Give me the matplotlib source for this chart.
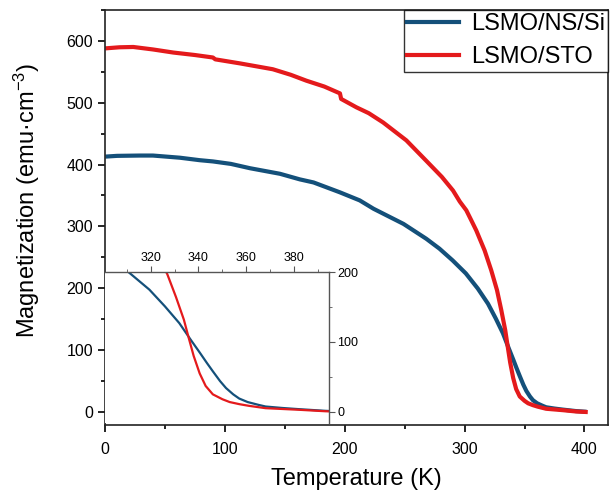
import matplotlib
matplotlib.use("Agg")
import matplotlib.pyplot as plt
from matplotlib.ticker import MultipleLocator

plt.rcParams['font.family'] = ['Liberation Sans', 'DejaVu Sans']
plt.rcParams['mathtext.fontset'] = 'custom'
plt.rcParams['mathtext.rm'] = 'Liberation Sans'
plt.rcParams['mathtext.default'] = 'regular'

# LSMO/NS/Si: temperature (K), magnetization (emu/cm3)
t_si = [2, 10, 29, 40, 62.5, 79, 90, 105, 121, 146, 162.5, 174, 196, 212.5,
        224, 249, 268, 279, 290, 301, 311, 319.5, 326, 332, 337, 340.5, 343.5,
        346, 349, 351.5, 354.5, 357, 360.5, 365, 368, 375, 382, 393, 400]
m_si = [413, 414, 414.5, 414.5, 411, 407, 405, 401, 394, 385, 376, 371, 355, 342,
        328.5, 304, 280, 264, 245, 224, 199.5, 175, 151, 127, 102, 85, 70,
        58, 44, 34, 25, 19, 14, 10, 7.6, 5.5, 3.8, 1.4, 0.5]

# LSMO/STO
t_sto = [2, 12, 23.6, 40, 57, 75, 90, 92, 112.5, 140, 155, 168, 183, 196, 197,
         209.7, 220, 232, 251.4, 268, 281, 290.3, 296, 301.4, 305, 309.7, 316.7,
         322.2, 327, 330.6, 333.9, 336, 338, 340.5, 343, 346, 350, 353, 357,
         361, 368, 382, 393, 401]
m_sto = [588, 589.5, 590, 586, 581, 577, 573, 570, 563.5, 554, 545, 535.5, 526, 515, 506,
         492.5, 483, 468, 439, 406, 380, 358, 340, 326, 312, 293.5, 261,
         229, 197, 164.5, 132, 105, 80, 55, 37, 25, 18, 14, 11,
         8.6, 5.2, 2.9, 0.8, 0]

blue = '#14507a'
red = '#e41a1c'

fig = plt.figure(figsize=(6.14, 4.93), dpi=100)
ax = fig.add_axes([0.171, 0.138, 0.820, 0.842])

ax.plot(t_si, m_si, color=blue, lw=3.0, label='LSMO/NS/Si')
ax.plot(t_sto, m_sto, color=red, lw=3.0, label='LSMO/STO')

ax.set_xlim(0, 420)
ax.set_ylim(-21, 650)
ax.xaxis.set_major_locator(MultipleLocator(100))
ax.xaxis.set_minor_locator(MultipleLocator(50))
ax.yaxis.set_major_locator(MultipleLocator(100))
ax.yaxis.set_minor_locator(MultipleLocator(50))
ax.tick_params(which='both', direction='out', width=1.2, labelsize=11.5)
ax.tick_params(which='major', length=5)
ax.tick_params(which='minor', length=3)
ax.tick_params(axis='x', pad=7)
for s in ax.spines.values():
    s.set_linewidth(1.2)
    s.set_color('#222222')

ax.set_xlabel('Temperature (K)', fontsize=17, labelpad=8)
ax.set_ylabel('Magnetization (emu·cm$^{-3}$)', fontsize=17)
ax.yaxis.set_label_coords(-0.125, 0.542)

leg = ax.legend(loc='upper right', bbox_to_anchor=(1.0, 1.0), borderaxespad=0,
                fontsize=17, frameon=True, fancybox=False, handlelength=2.2,
                handletextpad=0.5, borderpad=0.15, labelspacing=0.45)
leg.get_frame().set_edgecolor('black')
leg.get_frame().set_linewidth(1.0)
for line in leg.get_lines():
    line.set_linewidth(3.0)

# inset zoom around the transition
ins = fig.add_axes([0.171, 0.142, 0.365, 0.306])
ins.plot(t_si, m_si, color=blue, lw=1.6)
ins.plot(t_sto, m_sto, color=red, lw=1.6)
ins.set_xlim(301, 394.5)
ins.set_ylim(-16, 200)
ins.xaxis.set_major_locator(MultipleLocator(20))
ins.xaxis.set_minor_locator(MultipleLocator(10))
ins.yaxis.set_major_locator(MultipleLocator(100))
ins.yaxis.set_minor_locator(MultipleLocator(50))
ins.xaxis.tick_top()
ins.yaxis.tick_right()
ins.tick_params(which='both', direction='out', color='#555555', labelsize=9, pad=2)
ins.tick_params(which='major', length=4)
ins.tick_params(which='minor', length=2)
ins.spines['left'].set_visible(False)
ins.spines['bottom'].set_visible(False)
for side in ('top', 'right'):
    ins.spines[side].set_color('#555555')
    ins.spines[side].set_linewidth(1.0)

fig.savefig('out.png', dpi=100)
